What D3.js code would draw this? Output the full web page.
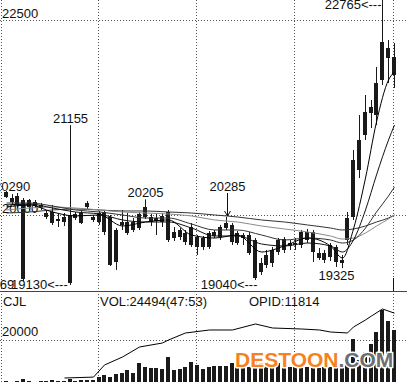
<!DOCTYPE html>
<html>
<head>
<meta charset="utf-8">
<script src="https://cdn.jsdelivr.net/npm/d3@7"></script>
<style>
body { margin: 0; background: #fff; }
svg { display: block; font-family: "Liberation Sans", Arial, sans-serif; }
</style>
</head>
<body>
<svg id="chart" width="407" height="382"></svg>
<script>
// daily bars (oldest first)
var opens  = [20299,20171,20248,19185,20107,20120,20133,20030,20043,19928,19915,19134,19966,20030,20107,19979,
              19915,20043,19979,19403,19877,19915,19813,19838,19979,19979,19928,19992,20043,19710,19813,19774,
              19621,19723,19595,19595,19736,19723,19838,19877,19774,19710,19749,19685,19275,19365,19557,19531,
              19697,19608,19646,19621,19685,19787,19518,19518,19467,19595,19390,19685,19979,20581,21028,21310,
              21284,21732,22142,22027];
var highs  = [20312,20273,20286,20222,20209,20197,20158,20056,20133,20030,20030,21155,20043,20056,20184,20005,
              20056,20069,20005,19838,20069,20030,19966,20043,20205,20017,20030,20030,20069,19851,19838,19813,
              19902,19749,19736,19800,19813,19877,19979,19902,19800,19774,19787,19710,19454,19557,19595,19710,
              19723,19685,19710,19813,19826,19813,19582,19557,19646,19621,19493,20043,20836,21284,21540,21476,
              21899,22765,22244,22206];
var lows   = [20222,20145,20094,19160,20069,20094,20069,19953,19877,19851,19864,19109,19941,19889,20081,19915,
              19877,19749,19352,19301,19813,19749,19787,19813,19953,19864,19749,19851,19659,19672,19685,19621,
              19595,19493,19557,19570,19710,19685,19813,19621,19621,19621,19493,19173,19237,19326,19339,19493,
              19518,19557,19557,19582,19646,19403,19429,19390,19416,19339,19325,19621,19941,20478,20964,21118,
              21156,21668,21694,21630];
var closes = [20235,20222,20133,20197,20197,20171,20094,19979,19902,19953,19979,20005,20017,19902,20158,19941,
              20030,19787,19365,19813,19915,19774,19915,20017,20107,19915,19966,19915,19685,19787,19723,19659,
              19851,19595,19710,19774,19787,19851,19902,19659,19646,19749,19518,19198,19390,19493,19390,19685,
              19557,19646,19621,19787,19787,19531,19454,19429,19621,19403,19429,19966,20709,20964,21323,21387,
              21694,22219,22014,21796];
var volumes = [1800,1500,2000,2600,1700,1500,1600,2000,2200,1800,1900,2800,2000,2100,2300,2400,
               3560,4440,3560,4890,5330,6670,5330,9780,8000,7560,7560,7110,12440,6670,7110,8000,
               10220,8890,7110,8000,8440,8440,8440,9780,8000,8890,8000,11110,9780,8440,8000,9780,
               8000,7800,8100,8000,7900,8100,7560,8000,7900,8100,8000,8890,20440,11110,14670,18220,
               23550,33330,28440,24494];

// open interest line, read at these bars
var opidIdx  = [10,15,17,20,23,27,28,31,35,39,43,46,51,54,56,59,60,62,63,65,67];
var opidVals = [1150,1300,3290,4606,6250,6909,7400,8554,9047,9047,10035,9376,9212,9047,8718,8554,9541,10692,11350,12500,11814];

// moving averages, read at these bars
var maIdx  = [0,4,8,12,16,20,24,28,32,36,40,44,48,52,56,58,60,62,64,66,67];
var ma5    = [20107,20133,20043,19992,20005,19864,19915,19941,19749,19710,19749,19531,19608,19710,19608,19454,19826,20478,21195,21732,21835];
var ma10   = [20133,20145,20094,20043,20017,19941,19915,19915,19838,19736,19736,19634,19608,19646,19608,19531,19685,20069,20517,20964,21156];
var ma20   = [20158,20158,20120,20069,20043,20005,19966,19966,19889,19813,19813,19749,19685,19710,19685,19646,19685,19838,20043,20248,20363];
var ma40   = [20069,20094,20107,20094,20069,20043,20030,20017,19992,19941,19915,19864,19826,19787,19736,19697,19710,19774,19864,19953,20005];
var ma60   = [20030,20043,20069,20081,20069,20056,20056,20043,20030,20005,19979,19941,19915,19877,19838,19813,19826,19864,19915,19966,20005];

var priceGrid = [22500, 20000];
var volGrid = [20000];
var monthIdx = [16, 33, 50, 67];

var svg = d3.select("#chart");
var W = 407, H = 382;

var bars = d3.range(opens.length);
var x = d3.scaleBand().domain(bars).range([3, 396.7]).paddingInner(0.3).paddingOuter(0.15);
function cx(i) { return Math.round(x(i) + x.bandwidth() / 2) + 0.5; }
var y  = d3.scaleLinear().domain([19000, 22500]).range([293.5, 20]);
var yv = d3.scaleLinear().domain([0, 20000]).range([385, 340]);
var yo = d3.scaleLinear().domain([0, 12500]).range([385, 309]);

var defs = svg.append("defs");
defs.append("clipPath").attr("id", "clipMain").append("rect").attr("x", 0).attr("y", 0).attr("width", W).attr("height", 291);
defs.append("clipPath").attr("id", "clipVol").append("rect").attr("x", 0).attr("y", 292).attr("width", W).attr("height", 90);

var ink = "#111";

// grid
var grid = svg.append("g").attr("stroke", "#555").attr("stroke-dasharray", "1,2").attr("fill", "none");
grid.selectAll("line.h").data(priceGrid).enter().append("line")
    .attr("x1", 0).attr("x2", W)
    .attr("y1", function(d) { return Math.round(y(d)) + 0.5; })
    .attr("y2", function(d) { return Math.round(y(d)) + 0.5; });
grid.selectAll("line.v").data(volGrid).enter().append("line")
    .attr("x1", 0).attr("x2", W)
    .attr("y1", function(d) { return Math.round(yv(d)) + 0.5; })
    .attr("y2", function(d) { return Math.round(yv(d)) + 0.5; });
grid.selectAll("line.m").data(monthIdx).enter().append("line")
    .attr("x1", function(d) { return cx(d) - 1; }).attr("x2", function(d) { return cx(d) - 1; })
    .attr("y1", 0).attr("y2", H);
grid.append("line").attr("x1", 1.5).attr("x2", 1.5).attr("y1", 0).attr("y2", H);

// panel separator
svg.append("line").attr("x1", 0).attr("x2", W).attr("y1", 291.5).attr("y2", 291.5)
    .attr("stroke", "#444");

// price axis labels
var txt = svg.append("g").attr("font-size", 13).attr("fill", ink);
priceGrid.forEach(function(p) {
    txt.append("text").attr("x", 2).attr("y", Math.round(y(p)) - 2).text(p);
});

// candles
var main = svg.append("g").attr("clip-path", "url(#clipMain)");
main.selectAll("line.wick").data(bars).enter().append("line")
    .attr("x1", cx).attr("x2", cx)
    .attr("y1", function(i) { return y(highs[i]); })
    .attr("y2", function(i) { return y(lows[i]); })
    .attr("stroke", "#1a1a1a");
main.selectAll("rect.body").data(bars).enter().append("rect")
    .attr("x", function(i) { return cx(i) - 2.5; })
    .attr("width", 4)
    .attr("y", function(i) { return Math.round(y(Math.max(opens[i], closes[i]))); })
    .attr("height", function(i) { return Math.max(1, Math.round(Math.abs(y(opens[i]) - y(closes[i])))); })
    .attr("fill", "#1a1a1a");

// moving averages
var maLine = d3.line()
    .x(function(d) { return cx(d[0]); })
    .y(function(d) { return y(d[1]); })
    .curve(d3.curveMonotoneX);
var maSeries = [
    { v: ma60, c: "#333" },
    { v: ma40, c: "#8a8a8a" },
    { v: ma20, c: "#333" },
    { v: ma10, c: "#111" },
    { v: ma5,  c: "#000" }
];
maSeries.forEach(function(s) {
    main.append("path")
        .datum(maIdx.map(function(k, j) { return [k, s.v[j]]; }))
        .attr("d", maLine)
        .attr("fill", "none")
        .attr("stroke", s.c)
        .attr("stroke-width", 1);
});

// high / low marks
var mk = svg.append("g").attr("font-size", 13).attr("fill", ink);
mk.append("text").attr("x", -6).attr("y", 191).text("20290");
mk.append("text").attr("x", -22).attr("y", 289).text("18969");
mk.append("text").attr("x", 11).attr("y", 289).text("19130<---");
mk.append("text").attr("x", cx(11)).attr("y", y(21155) - 2).attr("text-anchor", "middle").text("21155");
mk.append("text").attr("x", cx(24)).attr("y", y(20205) - 2).attr("text-anchor", "middle").text("20205");
mk.append("text").attr("x", cx(38) + 1).attr("y", 191).attr("text-anchor", "middle").text("20285");
mk.append("text").attr("x", cx(43) + 2).attr("y", 289).attr("text-anchor", "end").text("19040<---");
mk.append("text").attr("x", cx(58) - 6).attr("y", 280).attr("text-anchor", "middle").text("19325");
mk.append("text").attr("x", cx(65) - 1).attr("y", 9).attr("text-anchor", "end").text("22765<---");

// arrow to 20285 bar
var ax = cx(38) + 1, ayEnd = y(highs[38]) - 1;
svg.append("line").attr("x1", ax).attr("x2", ax).attr("y1", 193).attr("y2", ayEnd).attr("stroke", ink);
svg.append("path")
    .attr("d", "M" + (ax - 3) + "," + (ayEnd - 5) + "L" + ax + "," + ayEnd + "L" + (ax + 3) + "," + (ayEnd - 5))
    .attr("fill", "none").attr("stroke", ink);

// cursor line at last bar
svg.append("line").attr("x1", cx(67) - 1).attr("x2", cx(67) - 1).attr("y1", 278).attr("y2", 291).attr("stroke", ink);
svg.append("line").attr("x1", cx(67) - 1).attr("x2", cx(67) - 1).attr("y1", 377).attr("y2", H).attr("stroke", ink);

// volume panel
var vol = svg.append("g").attr("clip-path", "url(#clipVol)");
vol.selectAll("rect").data(bars).enter().append("rect")
    .attr("x", function(i) { return cx(i) - 2.5; })
    .attr("width", 4)
    .attr("y", function(i) { return Math.round(yv(volumes[i])); })
    .attr("height", function(i) { return 385 - Math.round(yv(volumes[i])); })
    .attr("fill", "#1a1a1a");
vol.append("path")
    .datum(opidIdx.map(function(k, j) { return [k, opidVals[j]]; }))
    .attr("d", d3.line().x(function(d) { return cx(d[0]); }).y(function(d) { return yo(d[1]); }))
    .attr("fill", "none").attr("stroke", "#000");

var vt = svg.append("g").attr("font-size", 13).attr("fill", ink);
vt.append("text").attr("x", 3).attr("y", 306).text("CJL");
vt.append("text").attr("x", 100).attr("y", 306).text("VOL:" + volumes[volumes.length - 1] + "(47:53)");
vt.append("text").attr("x", 249).attr("y", 306).text("OPID:" + opidVals[opidVals.length - 1]);
volGrid.forEach(function(v) {
    vt.append("text").attr("x", 2).attr("y", Math.round(yv(v)) - 4).text(v);
});

// watermark
var wm = svg.append("text").attr("x", 235).attr("y", 367)
    .attr("font-size", 21).attr("font-weight", "bold")
    .attr("stroke", "#fff").attr("stroke-width", 3).attr("paint-order", "stroke")
    .attr("stroke-linejoin", "round");
wm.append("tspan").attr("fill", "#f5821f").text("DESTOON");
wm.append("tspan").attr("fill", "#6e6e6e").text(".COM");
</script>
</body>
</html>
